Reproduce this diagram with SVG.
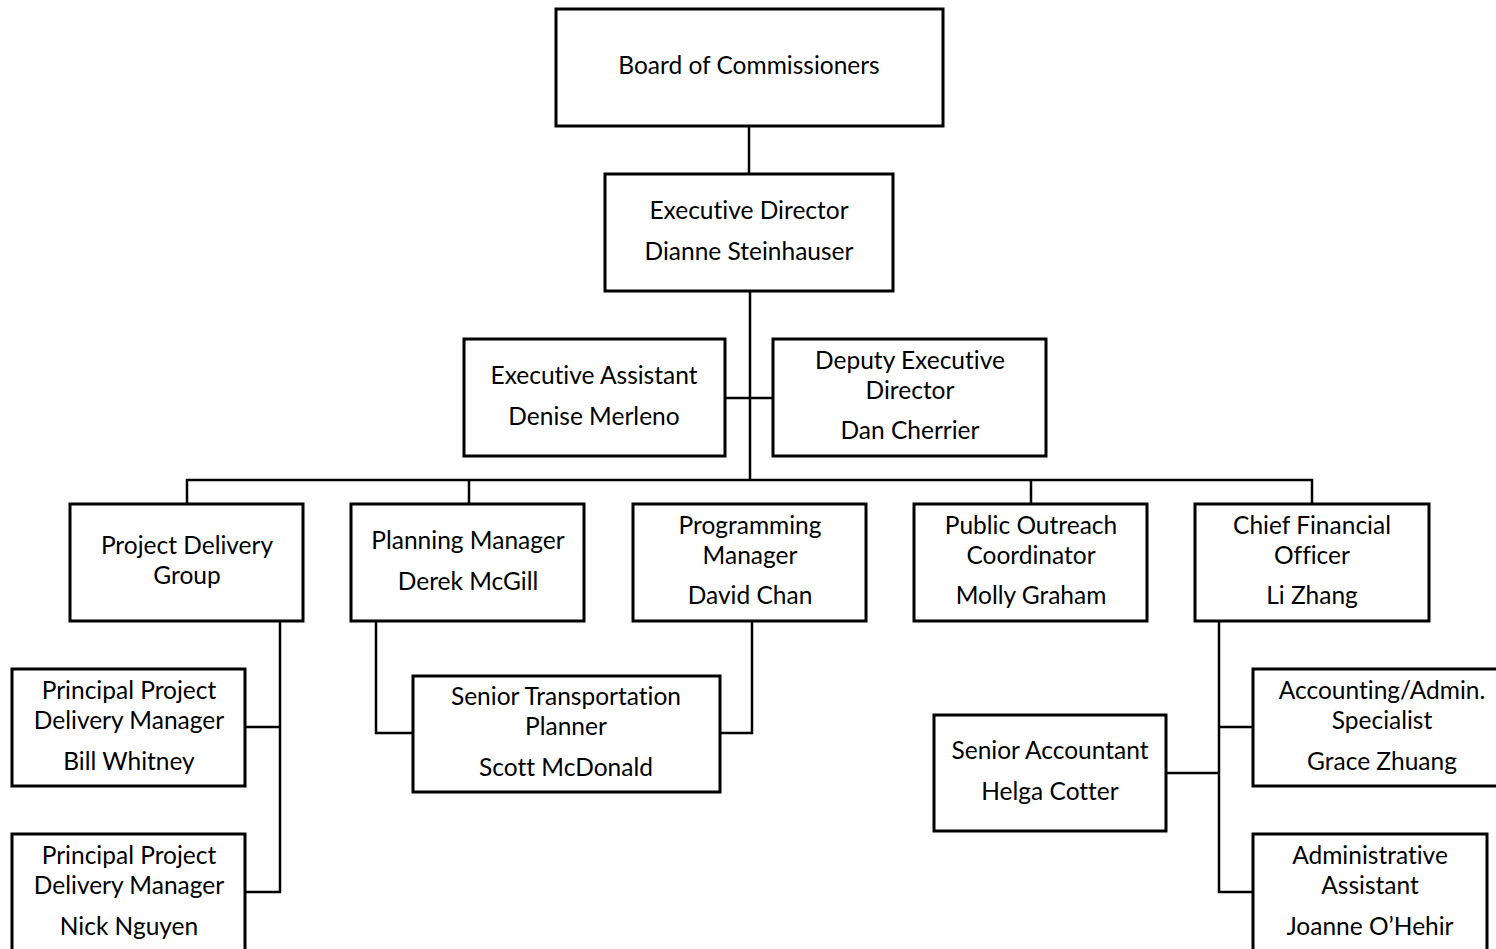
<svg xmlns="http://www.w3.org/2000/svg" width="1496" height="949" viewBox="0 0 1496 949">
<style>
.b{fill:#fff;stroke:#000;stroke-width:3}
.c{fill:none;stroke:#000;stroke-width:2.5}
text{font-family:Lato,"Open Sans",sans-serif;font-size:24.5px;fill:#000;text-anchor:middle;font-variant-ligatures:none}
</style>
<rect width="1496" height="949" fill="#fff"/>
<g id="connectors">
<path class="c" d="M749 126V174M750 291V480M725 398H773M187 504V480H1312V504M469 480V504M1031 480V504"/>
<path class="c" d="M280 621V892H245M245 727H280"/>
<path class="c" d="M376 621V733H413"/>
<path class="c" d="M752 621V733H720"/>
<path class="c" d="M1219 621V892H1253M1219 727H1253M1166 773H1219"/>
</g>
<g id="board"><rect class="b" x="556" y="9" width="387" height="117"/><text x="749" y="74">Board of Commissioners</text></g>
<g id="exec-director"><rect class="b" x="605" y="174" width="288" height="117"/><text x="749" y="219">Executive Director</text><text x="749" y="260">Dianne Steinhauser</text></g>
<g id="exec-assistant"><rect class="b" x="464" y="339" width="261" height="117"/><text x="594" y="384">Executive Assistant</text><text x="594" y="425">Denise Merleno</text></g>
<g id="deputy"><rect class="b" x="773" y="339" width="273" height="117"/><text x="910" y="369">Deputy Executive</text><text x="910" y="399">Director</text><text x="910" y="439">Dan Cherrier</text></g>
<g id="project-delivery"><rect class="b" x="70" y="504" width="233" height="117"/><text x="187" y="554">Project Delivery</text><text x="187" y="584">Group</text></g>
<g id="planning"><rect class="b" x="351" y="504" width="233" height="117"/><text x="468" y="549">Planning Manager</text><text x="468" y="590">Derek McGill</text></g>
<g id="programming"><rect class="b" x="633" y="504" width="233" height="117"/><text x="750" y="534">Programming</text><text x="750" y="564">Manager</text><text x="750" y="604">David Chan</text></g>
<g id="outreach"><rect class="b" x="914" y="504" width="233" height="117"/><text x="1031" y="534">Public Outreach</text><text x="1031" y="564">Coordinator</text><text x="1031" y="604">Molly Graham</text></g>
<g id="cfo"><rect class="b" x="1195" y="504" width="234" height="117"/><text x="1312" y="534">Chief Financial</text><text x="1312" y="564">Officer</text><text x="1312" y="604">Li Zhang</text></g>
<g id="ppdm1"><rect class="b" x="12" y="669" width="233" height="117"/><text x="129" y="699">Principal Project</text><text x="129" y="729">Delivery Manager</text><text x="129" y="770">Bill Whitney</text></g>
<g id="ppdm2"><rect class="b" x="12" y="834" width="233" height="130"/><text x="129" y="864">Principal Project</text><text x="129" y="894">Delivery Manager</text><text x="129" y="935">Nick Nguyen</text></g>
<g id="senior-planner"><rect class="b" x="413" y="676" width="307" height="116"/><text x="566" y="705">Senior Transportation</text><text x="566" y="735">Planner</text><text x="566" y="776">Scott McDonald</text></g>
<g id="senior-accountant"><rect class="b" x="934" y="715" width="232" height="116"/><text x="1050" y="759">Senior Accountant</text><text x="1050" y="800">Helga Cotter</text></g>
<g id="accounting-specialist"><rect class="b" x="1253" y="669" width="260" height="117"/><text x="1382" y="699">Accounting/Admin.</text><text x="1382" y="729">Specialist</text><text x="1382" y="770">Grace Zhuang</text></g>
<g id="admin-assistant"><rect class="b" x="1253" y="834" width="234" height="130"/><text x="1370" y="864">Administrative</text><text x="1370" y="894">Assistant</text><text x="1370" y="935">Joanne O’Hehir</text></g>
</svg>
